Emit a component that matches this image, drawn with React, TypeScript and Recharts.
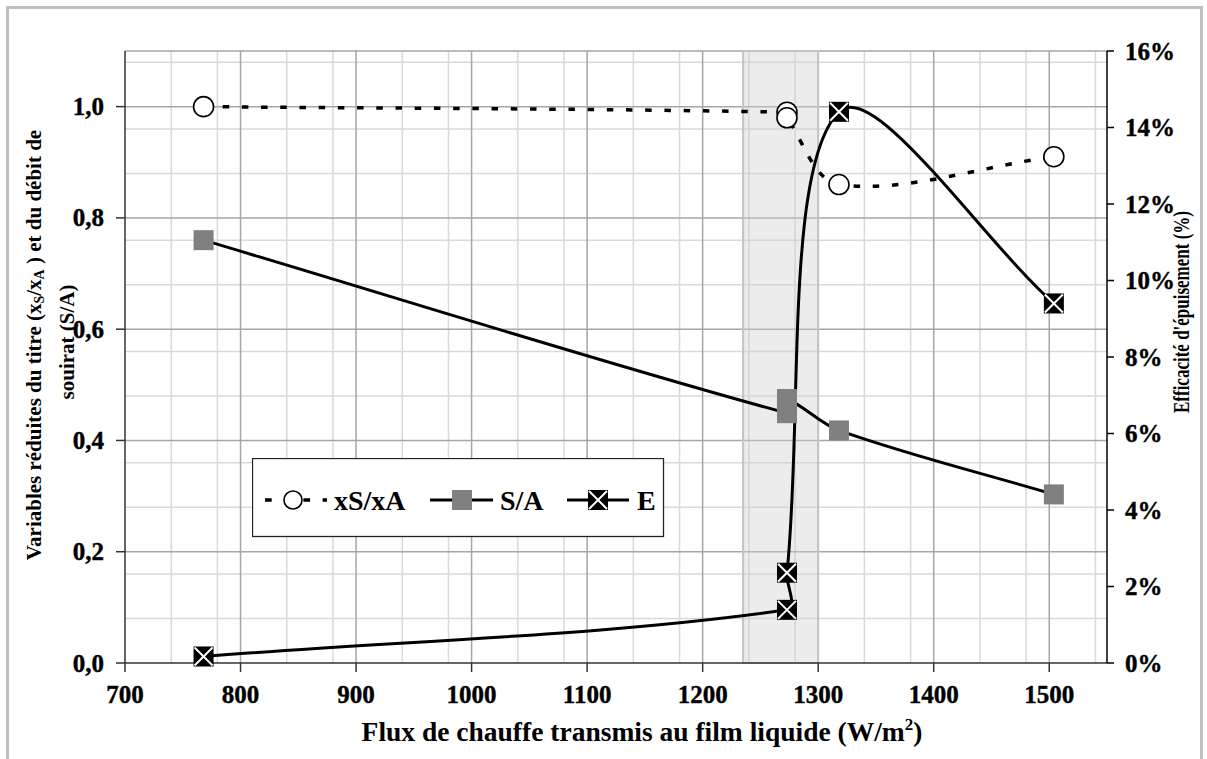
import React from 'react';
import { ComposedChart, Line, XAxis, YAxis, CartesianGrid, ReferenceArea, Legend } from 'recharts';

// ---- data ----
const fluxValues = [768, 1273, 1273, 1318, 1504];
const xsxaValues = [1.0, 0.99, 0.98, 0.86, 0.91];
const saValues = [0.76, 0.449, 0.4745, 0.418, 0.303];
const effValues = [0.17, 1.39, 2.36, 14.41, 9.4];

const xTicks = [700, 800, 900, 1000, 1100, 1200, 1300, 1400, 1500];
const leftTicks = [0, 0.2, 0.4, 0.6, 0.8, 1.0];
const rightTicks = [0, 2, 4, 6, 8, 10, 12, 14, 16];
const zoneStart = 1235;
const zoneEnd = 1300;

const minorX: number[] = [];
for (let v = 720; v < 1550; v += 20) if (v % 100 !== 0) minorX.push(v);
const majorX = [800, 900, 1000, 1100, 1200, 1300, 1400, 1500];
const minorY: number[] = [];
for (let i = 1; i < 28; i++) if (i % 5 !== 0) minorY.push(+(i * 0.04).toFixed(2));
const majorY = [0.2, 0.4, 0.6, 0.8, 1.0, 1.1];

const xsxaData = fluxValues.map((x, i) => ({ x, y: xsxaValues[i] }));
const saData = fluxValues.map((x, i) => ({ x, y: saValues[i] }));
const effData = fluxValues.map((x, i) => ({ x, y: effValues[i] }));

const FONT = 'Liberation Serif';

// Excel-like smoothing curve factory
const excelSmooth: any = (context: any) => {
  let pts: number[][] = [];
  return {
    areaStart() {},
    areaEnd() {},
    lineStart() {
      pts = [];
    },
    point(x: number, y: number) {
      pts.push([+x, +y]);
    },
    lineEnd() {
      const n = pts.length;
      if (!n) return;
      context.moveTo(pts[0][0], pts[0][1]);
      if (n === 1) return;
      const dist = (a: number[], b: number[]) => Math.hypot(b[0] - a[0], b[1] - a[1]);
      const tangent = (i: number) => {
        const prev = pts[Math.max(i - 1, 0)];
        const next = pts[Math.min(i + 1, n - 1)];
        const d = dist(prev, pts[i]) + dist(pts[i], next);
        if (d === 0) return [0, 0];
        return [(next[0] - prev[0]) / d, (next[1] - prev[1]) / d];
      };
      for (let i = 0; i < n - 1; i++) {
        const p1 = pts[i];
        const p2 = pts[i + 1];
        const L = dist(p1, p2) / 3;
        const m1 = tangent(i);
        const m2 = tangent(i + 1);
        context.bezierCurveTo(
          p1[0] + m1[0] * L,
          p1[1] + m1[1] * L,
          p2[0] - m2[0] * L,
          p2[1] - m2[1] * L,
          p2[0],
          p2[1]
        );
      }
    },
  };
};

const CircleDot = (props: any) => {
  const { cx, cy, index } = props;
  if (cx == null || cy == null) return <g key={`c${index}`} />;
  return <circle key={`c${index}`} cx={cx} cy={cy} r={10} fill="#fff" stroke="#000" strokeWidth={1.6} />;
};

const SquareDot = (props: any) => {
  const { cx, cy, index } = props;
  if (cx == null || cy == null) return <g key={`s${index}`} />;
  return <rect key={`s${index}`} x={cx - 10} y={cy - 10} width={20} height={20} fill="#808080" />;
};

const CrossDot = (props: any) => {
  const { cx, cy, index } = props;
  if (cx == null || cy == null) return <g key={`e${index}`} />;
  return (
    <g key={`e${index}`}>
      <rect x={cx - 10} y={cy - 10} width={20} height={20} fill="#000" />
      <line x1={cx - 9} y1={cy - 9} x2={cx + 9} y2={cy + 9} stroke="#fff" strokeWidth={2} />
      <line x1={cx - 9} y1={cy + 9} x2={cx + 9} y2={cy - 9} stroke="#fff" strokeWidth={2} />
    </g>
  );
};

const boldStyle = { fontFamily: FONT, fontWeight: 'bold' as const };
const textProps = { fontFamily: FONT, fontWeight: 700, fill: '#000' };

const XTick = (props: any) => {
  const { x, y, payload } = props;
  return (
    <text
      x={x}
      y={y}
      dy="0.75em"
      textAnchor="middle"
      fontSize={25}
      {...textProps}
      stroke="#000"
      strokeWidth={0.4}
      style={boldStyle}
    >
      {payload.value}
    </text>
  );
};

const LeftTick = (props: any) => {
  const { x, y, payload } = props;
  return (
    <text
      x={x}
      y={y}
      textAnchor="end"
      dominantBaseline="central"
      fontSize={25}
      {...textProps}
      stroke="#000"
      strokeWidth={0.4}
      style={boldStyle}
    >
      {Number(payload.value).toFixed(1).replace('.', ',')}
    </text>
  );
};

const RightTick = (props: any) => {
  const { x, y, payload } = props;
  return (
    <text
      x={x}
      y={y}
      textAnchor="start"
      dominantBaseline="central"
      fontSize={25}
      {...textProps}
      stroke="#000"
      strokeWidth={0.4}
      style={boldStyle}
    >
      {`${payload.value}%`}
    </text>
  );
};

const renderLegend = () => (
  <svg width={413} height={80} style={{ display: 'block', fontFamily: FONT }}>
    <rect x={0.5} y={0.5} width={411} height={78} fill="#fff" stroke="#222" strokeWidth={1.3} />
    <g fontFamily={FONT} fontWeight={700} fontSize={28} fill="#000" style={boldStyle}>
      <line x1={13} y1={42} x2={75} y2={42} stroke="#000" strokeWidth={3.5} strokeDasharray="6.7 12.5" />
      <circle cx={41} cy={42} r={9} fill="#fff" stroke="#000" strokeWidth={1.6} />
      <text x={82} y={51.5}>xS/xA</text>
      <line x1={178} y1={42} x2={241} y2={42} stroke="#000" strokeWidth={3} />
      <rect x={200} y={32} width={20} height={20} fill="#808080" />
      <text x={248} y={51.5}>S/A</text>
      <line x1={315} y1={42} x2={377} y2={42} stroke="#000" strokeWidth={3} />
      <rect x={336} y={32} width={20} height={20} fill="#000" />
      <line x1={337} y1={33} x2={355} y2={51} stroke="#fff" strokeWidth={2} />
      <line x1={337} y1={51} x2={355} y2={33} stroke="#fff" strokeWidth={2} />
      <text x={385} y={51.5}>E</text>
    </g>
  </svg>
);

const LeftTitle = () => (
  <g fontSize={21} {...textProps} style={boldStyle}>
    <text transform="translate(34,345) rotate(-90)" textAnchor="middle" dominantBaseline="central">
      Variables réduites du titre (x
      <tspan fontSize={14} dy={5}>S</tspan>
      <tspan dy={-5}>/x</tspan>
      <tspan fontSize={14} dy={5}>A</tspan>
      <tspan dy={-5}> ) et du débit de</tspan>
    </text>
    <text transform="translate(67,342) rotate(-90)" textAnchor="middle" dominantBaseline="central">
      souirat (S/A)
    </text>
  </g>
);

const RightTitle = () => (
  <text
    transform="translate(1181,312) rotate(-90)"
    textAnchor="middle"
    dominantBaseline="central"
    fontSize={23}
    textLength={202}
    lengthAdjust="spacingAndGlyphs"
    {...textProps}
    style={boldStyle}
  >
    Efficacité d'épuisement (%)
  </text>
);

const BottomTitle = () => (
  <text x={642} y={741} textAnchor="middle" fontSize={27.5} {...textProps} style={boldStyle}>
    Flux de chauffe transmis au film liquide (W/m
    <tspan fontSize={17} dy={-11}>2</tspan>
    <tspan dy={11}>)</tspan>
  </text>
);

export default function App() {
  return (
    <div style={{ position: 'fixed', left: 0, top: 0, width: 1207, height: 759, overflow: 'hidden', background: '#fff', fontFamily: FONT }}>
      <div
        style={{
          position: 'absolute',
          left: 6,
          top: 6,
          width: 1197,
          height: 820,
          boxSizing: 'border-box',
          border: '3px solid #c0c0c0',
        }}
      />
      <div style={{ position: 'absolute', left: 0, top: 0 }}>
        <ComposedChart width={1207} height={759} margin={{ top: 51, right: 0, bottom: 0, left: 0 }}>
          <CartesianGrid horizontalValues={minorY} verticalValues={minorX} stroke="#d9d9d9" strokeWidth={1.5} />
          <CartesianGrid horizontalValues={majorY} verticalValues={majorX} stroke="#a6a6a6" strokeWidth={1.5} />
          <XAxis
            dataKey="x"
            type="number"
            domain={[700, 1550]}
            ticks={xTicks}
            height={96}
            tickSize={9}
            tickMargin={12}
            tick={<XTick />}
            axisLine={{ stroke: '#333', strokeWidth: 1.5 }}
            tickLine={{ stroke: '#333', strokeWidth: 1.5 }}
            label={<BottomTitle />}
          />
          <YAxis
            dataKey="y"
            domain={[0, 1.1]}
            ticks={leftTicks}
            width={125}
            tickSize={9}
            tickMargin={12}
            tick={<LeftTick />}
            axisLine={{ stroke: '#333', strokeWidth: 1.5 }}
            tickLine={{ stroke: '#333', strokeWidth: 1.5 }}
            label={<LeftTitle />}
          />
          <YAxis
            yAxisId="right"
            orientation="right"
            dataKey="y"
            domain={[0, 16]}
            ticks={rightTicks}
            width={100}
            tickSize={7}
            tickMargin={11}
            tick={<RightTick />}
            axisLine={{ stroke: '#000', strokeWidth: 1.5 }}
            tickLine={{ stroke: '#000', strokeWidth: 1.5 }}
            label={<RightTitle />}
          />
          <ReferenceArea
            x1={zoneStart}
            x2={zoneEnd}
            y1={0}
            y2={1.1}
            fill="#d0d0d0"
            fillOpacity={0.4}
            stroke="#c4c4c4"
            strokeWidth={2}
          />
          <Line
            data={xsxaData}
            dataKey="y"
            type={excelSmooth}
            stroke="#000"
            strokeWidth={3.5}
            strokeDasharray="6.5 12.7"
            dot={CircleDot}
            activeDot={false}
            isAnimationActive={false}
            legendType="none"
          />
          <Line
            data={saData}
            dataKey="y"
            type={excelSmooth}
            stroke="#000"
            strokeWidth={3}
            dot={SquareDot}
            activeDot={false}
            isAnimationActive={false}
            legendType="none"
          />
          <Line
            data={effData}
            dataKey="y"
            yAxisId="right"
            type={excelSmooth}
            stroke="#000"
            strokeWidth={3}
            dot={CrossDot}
            activeDot={false}
            isAnimationActive={false}
            legendType="none"
          />
          <Legend
            content={renderLegend}
            layout="horizontal"
            verticalAlign="middle"
            align="center"
            wrapperStyle={{ left: 252, top: 458, width: 413, height: 80 }}
          />
        </ComposedChart>
      </div>
    </div>
  );
}
